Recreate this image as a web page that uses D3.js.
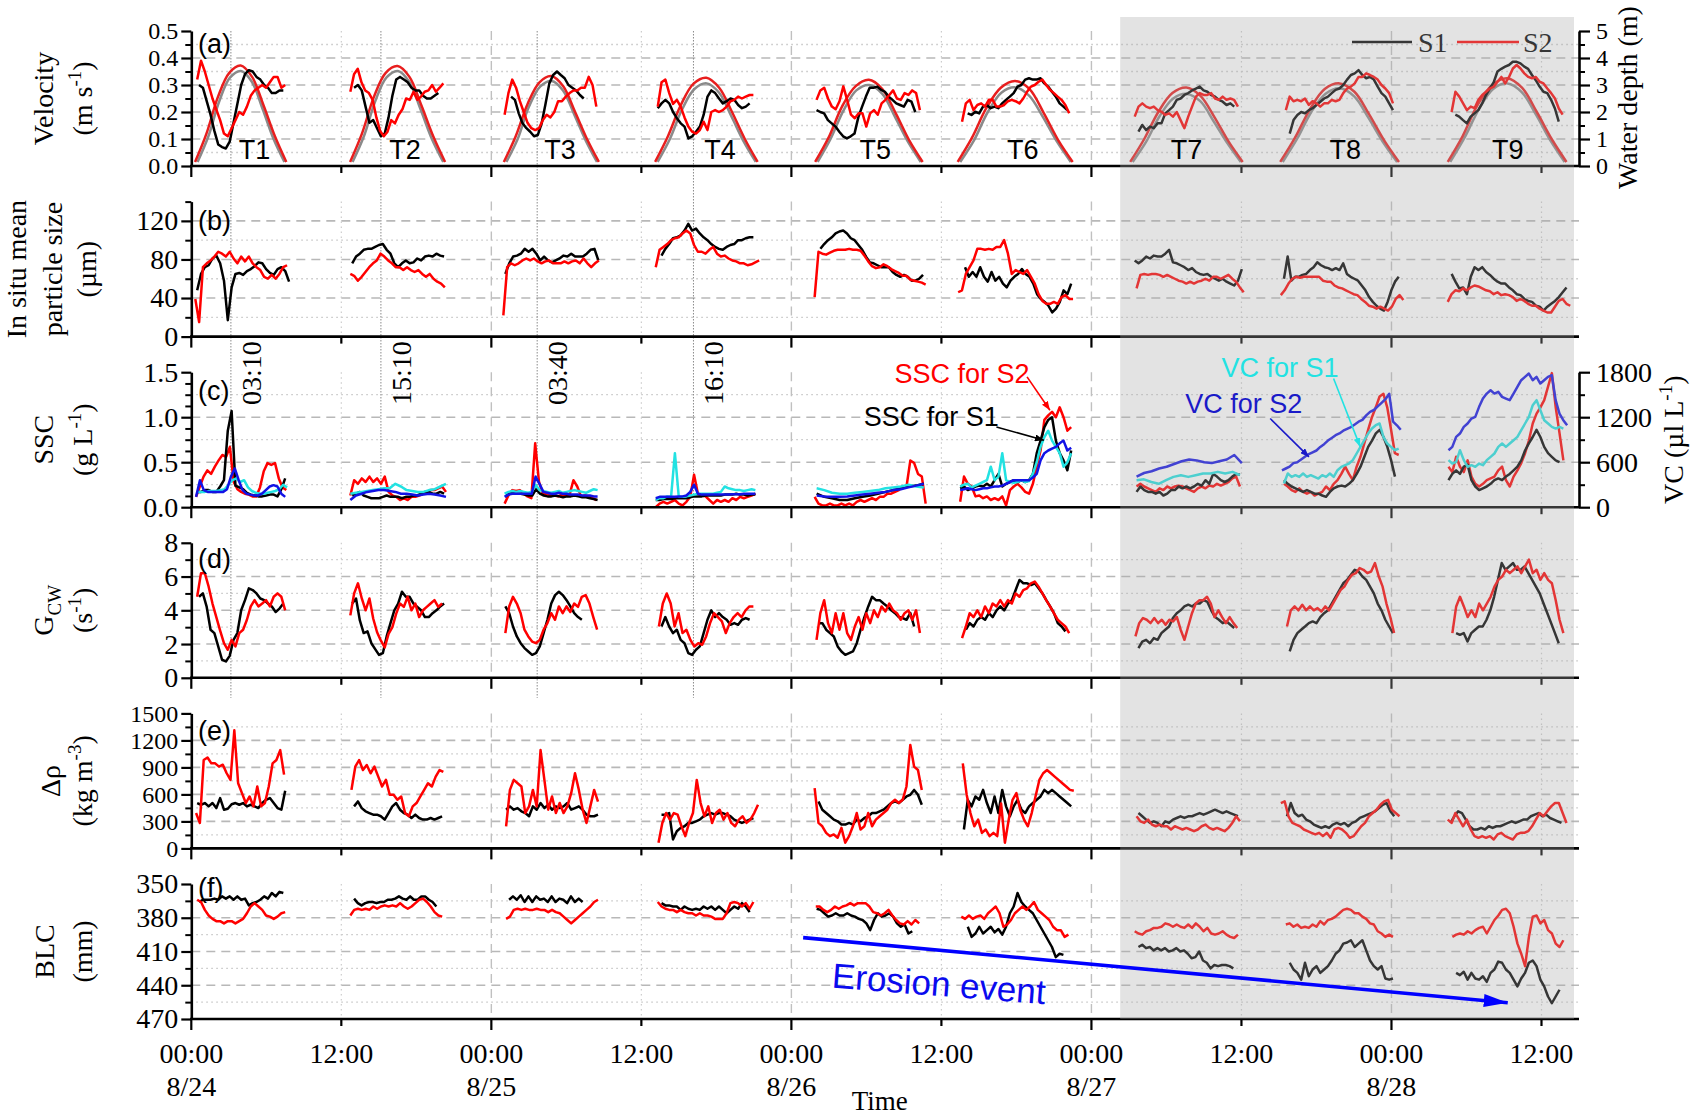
<!DOCTYPE html>
<html>
<head>
<meta charset="utf-8">
<script src="https://d3js.org/d3.v7.min.js"></script>
<style>
  body { margin: 0; background: #fff; }
</style>
</head>
<body>
<svg width="1699" height="1119" font-family='"Liberation Serif", "Times New Roman", serif'></svg>
<script>
// time in hours since 8/24 00:00; each segment = [tStart, tEnd, evenly spaced values]
var xTicks = [0, 12, 24, 36, 48, 60, 72, 84, 96, 108];
var xTickLabels = ["00:00", "12:00", "00:00", "12:00", "00:00", "12:00", "00:00", "12:00", "00:00", "12:00"];
var dayLabels = ["8/24", "8/25", "8/26", "8/27", "8/28"];
var tideNames = ["T1", "T2", "T3", "T4", "T5", "T6", "T7", "T8", "T9"];
var tideLabelHours = [5.06, 17.1, 29.5, 42.3, 54.7, 66.5, 79.6, 92.3, 105.3];
var markerHours = [3.167, 15.167, 27.667, 40.167];
var markerLabels = ["03:10", "15:10", "03:40", "16:10"];
var shadeHours = [74.3, 110.6];

var depthS1 = [
  [0.5, 7.45, [0.15, 1.1, 2.4, 3.28, 3.52, 3.12, 2.1, 1.0, 0.15]],
  [12.9, 20.15, [0.15, 1.1, 2.4, 3.28, 3.52, 3.12, 2.1, 1.0, 0.15]],
  [25.2, 32.45, [0.15, 1.0, 2.2, 2.95, 3.15, 2.8, 1.9, 0.95, 0.15]],
  [37.3, 45.15, [0.15, 1.0, 2.1, 2.85, 3.06, 2.72, 1.85, 0.92, 0.15]],
  [50.1, 58.35, [0.15, 1.0, 2.05, 2.8, 3.0, 2.68, 1.82, 0.9, 0.15]],
  [61.5, 70.35, [0.15, 0.95, 2.0, 2.72, 2.91, 2.6, 1.8, 0.9, 0.15]],
  [75.3, 83.95, [0.15, 0.9, 1.85, 2.5, 2.67, 2.4, 1.65, 0.85, 0.15]],
  [87.3, 96.45, [0.15, 1.0, 2.0, 2.68, 2.88, 2.58, 1.78, 0.9, 0.15]],
  [100.7, 109.85, [0.15, 1.05, 2.1, 2.85, 3.06, 2.74, 1.9, 0.95, 0.15]]
];
var depthS2 = [
  [0.3, 7.6, [0.15, 1.2, 2.55, 3.45, 3.72, 3.3, 2.25, 1.1, 0.15]],
  [12.7, 20.3, [0.15, 1.2, 2.55, 3.45, 3.7, 3.3, 2.25, 1.1, 0.15]],
  [25.0, 32.6, [0.15, 1.1, 2.3, 3.1, 3.33, 2.95, 2.0, 1.0, 0.15]],
  [37.1, 45.3, [0.15, 1.1, 2.25, 3.05, 3.27, 2.9, 2.0, 1.0, 0.15]],
  [49.9, 58.5, [0.15, 1.05, 2.2, 2.95, 3.19, 2.85, 1.95, 0.95, 0.15]],
  [61.3, 70.5, [0.15, 1.05, 2.15, 2.9, 3.15, 2.85, 1.95, 0.95, 0.15]],
  [75.1, 84.1, [0.15, 1.0, 2.0, 2.7, 2.91, 2.6, 1.8, 0.9, 0.15]],
  [87.1, 96.6, [0.15, 1.05, 2.1, 2.85, 3.06, 2.75, 1.9, 0.95, 0.15]],
  [100.5, 110.0, [0.15, 1.1, 2.25, 3.0, 3.25, 2.9, 2.0, 1.0, 0.15]]
];

var velS1 = [
  [0.62, 7.36, [.30,.29,.24,.19,.13,.08,.07,.065,.09,.16,.23,.30,.34,.355,.35,.33,.32,.30,.29,.27,.27,.28,.28]],
  [13.02, 19.76, [.29,.30,.28,.22,.16,.17,.14,.11,.12,.18,.26,.32,.33,.32,.31,.29,.28,.28,.26,.25,.25,.26,.27]],
  [25.58, 31.39, [.257,.245,.195,.158,.14,.127,.11,.115,.158,.23,.306,.337,.35,.337,.325,.30,.29,.28,.263,.25]],
  [37.31, 44.66, [.214,.232,.245,.232,.20,.177,.158,.146,.102,.11,.127,.146,.19,.257,.28,.27,.25,.232,.24,.25,.245,.226,.214,.22,.232]],
  [50.01, 57.91, [.207,.20,.195,.17,.158,.146,.127,.11,.102,.11,.12,.18,.22,.257,.29,.29,.294,.282,.275,.257,.245,.232,.226,.22,.245,.238,.20]],
  [62.1, 70.07, [.195,.189,.201,.195,.22,.226,.214,.22,.214,.232,.245,.257,.27,.294,.30,.32,.325,.32,.32,.325,.306,.294,.275,.257,.232,.22,.207]],
  [75.76, 83.42, [.127,.152,.133,.146,.14,.158,.158,.195,.207,.22,.245,.25,.263,.27,.28,.287,.294,.28,.275,.263,.257,.245,.238,.226,.232,.22]],
  [87.86, 96.12, [.12,.17,.189,.20,.195,.207,.214,.226,.238,.25,.257,.27,.282,.287,.30,.32,.337,.343,.355,.337,.325,.33,.32,.294,.27,.257,.232,.207]],
  [101.11, 109.38, [.19,.183,.17,.158,.183,.195,.207,.232,.263,.287,.31,.35,.36,.368,.374,.386,.386,.38,.368,.36,.337,.318,.294,.275,.27,.245,.213,.164]]
];
var velS2 = [
  [0.47, 7.51, [.32,.39,.35,.30,.25,.21,.17,.12,.11,.14,.17,.20,.19,.22,.26,.28,.29,.30,.29,.31,.33,.33,.29,.30]],
  [12.72, 20.16, [.275,.34,.36,.31,.28,.27,.245,.18,.13,.11,.127,.17,.158,.19,.21,.25,.245,.275,.245,.257,.275,.28,.30,.275,.29,.306]],
  [25.06, 32.4, [.19,.27,.32,.29,.24,.20,.16,.14,.133,.14,.17,.19,.18,.20,.24,.24,.257,.27,.28,.28,.29,.29,.33,.30,.22]],
  [37.31, 44.96, [.22,.31,.32,.27,.23,.245,.22,.18,.146,.127,.12,.133,.164,.133,.20,.207,.20,.207,.22,.24,.245,.257,.25,.257,.263,.263]],
  [50.01, 58.28, [.245,.28,.29,.25,.22,.21,.24,.295,.245,.19,.177,.195,.195,.146,.195,.207,.19,.232,.245,.263,.28,.25,.245,.27,.263,.28,.27,.207]],
  [61.65, 70.22, [.164,.232,.245,.207,.226,.232,.22,.245,.245,.22,.22,.226,.24,.245,.24,.232,.25,.275,.294,.30,.312,.32,.30,.282,.27,.257,.245,.226,.195]],
  [75.46, 83.72, [.183,.22,.232,.22,.214,.22,.207,.201,.189,.195,.183,.20,.17,.14,.183,.22,.257,.27,.263,.263,.27,.25,.245,.257,.245,.25,.245,.22]],
  [87.55, 96.12, [.207,.257,.24,.245,.24,.25,.226,.24,.232,.22,.232,.232,.245,.24,.245,.27,.287,.294,.306,.33,.33,.343,.337,.33,.32,.30,.287,.27,.232]],
  [100.81, 109.69, [.20,.275,.257,.232,.207,.22,.214,.245,.263,.275,.287,.294,.312,.33,.306,.33,.361,.374,.361,.343,.33,.325,.33,.312,.306,.287,.27,.25,.213,.19]]
];

var sizeS1 = [
  [0.47, 7.82, [48,65,72,74,81,84,76,58,17,51,65,66,64,68,70,73,77,76,70,66,64,70,72,68,57]],
  [12.87, 20.22, [76,83,86,90,91,91,93,95,96,90,86,76,72,76,79,76,77,81,79,83,84,83,86,84,83]],
  [25.12, 32.56, [65,76,83,84,86,91,88,91,86,79,83,79,77,79,81,84,83,86,83,83,83,86,90,91,79]],
  [37.61, 44.96, [84,91,96,102,103,105,110,117,110,112,107,103,100,96,93,91,90,93,95,96,100,100,102,103,103]],
  [50.32, 58.53, [91,96,100,103,107,109,110,107,102,100,95,90,83,77,76,74,72,72,72,67,64,62,64,62,58,58,60,64]],
  [61.89, 70.38, [72,62,67,62,72,62,57,67,58,62,55,51,58,62,65,70,65,62,55,44,39,36,32,25,29,36,48,44,55]],
  [75.46, 84.03, [79,76,79,83,81,84,83,83,86,90,77,76,74,72,69,71,67,65,64,65,62,60,58,60,57,55,53,58,70]],
  [87.4, 96.58, [60,83,58,62,62,64,65,69,72,77,74,72,71,69,71,69,76,65,62,60,58,53,48,41,36,32,29,27,36,48,57,62]],
  [100.81, 110.0, [65,57,50,51,44,62,72,69,72,67,64,60,57,55,55,51,48,44,43,39,37,36,32,31,27,31,34,37,41,46,51]]
];
var sizeS2 = [
  [0.32, 7.66, [39,15,72,76,79,83,88,86,83,88,81,76,83,78,83,76,72,69,62,60,64,60,65,72,74]],
  [12.72, 20.28, [65,63,58,62,67,72,76,79,86,83,79,76,72,72,69,72,69,67,69,65,62,65,60,57,55,51]],
  [24.96, 32.6, [22,72,76,74,76,79,81,79,81,78,76,78,79,76,76,76,78,76,78,79,76,81,76,72,76,79]],
  [37.15, 45.42, [72,90,93,96,100,102,103,107,110,107,95,88,88,86,90,93,86,83,84,81,79,78,76,76,74,75,77,79]],
  [49.86, 58.74, [41,88,86,85,87,89,90,90,90,91,90,90,89,84,78,73,71,72,75,73,70,68,66,63,63,59,58,57,56,54]],
  [61.34, 70.53, [46,48,65,72,79,91,91,90,91,90,93,93,100,86,65,69,67,65,69,62,55,44,37,34,34,36,34,41,43,39,39]],
  [75.61, 84.18, [50,64,65,64,65,65,64,62,64,62,60,58,57,55,57,55,57,58,60,58,62,62,60,62,64,60,57,51,46]],
  [87.15, 96.95, [43,48,55,60,62,61,62,62,62,62,62,58,57,57,53,51,50,48,46,44,43,39,36,32,31,29,31,29,27,31,39,43,38]],
  [100.5, 110.3, [36,44,48,47,50,48,51,53,52,50,48,47,44,46,43,44,43,41,37,39,37,34,32,32,29,27,25,25,31,37,39,34,32]]
];

var sscS1 = [
  [0.47, 7.51, [.17,.17,.19,.19,.17,.17,.23,.3,.85,1.07,.24,.22,.2,.16,.14,.13,.12,.12,.13,.14,.14,.12,.2,.32]],
  [12.87, 20.22, [.13,.15,.17,.13,.115,.10,.10,.10,.115,.13,.115,.115,.115,.10,.115,.115,.13,.13,.15,.17,.17,.15,.15,.17,.15]],
  [25.12, 32.5, [.12,.15,.17,.15,.15,.14,.13,.13,.2,.15,.13,.12,.12,.13,.12,.11,.12,.12,.13,.12,.11,.11,.1,.09,.08]],
  [37.15, 45.12, [.08,.08,.09,.09,.09,.1,.1,.1,.1,.11,.12,.12,.12,.13,.13,.13,.13,.13,.14,.14,.14,.15,.14,.14,.13,.14,.14]],
  [50.02, 58.59, [.15,.115,.1,.08,.08,.1,.115,.13,.15,.17,.19,.21,.23,.24,.26]],
  [61.5, 70.38, [.21,.23,.19,.21,.23,.24,.23,.26,.23,.3,.37,.23,.26,.28,.3,.28,.3,.28,.3,.37,.6,.74,.89,.97,1.0,.74,.6,.52,.41,.63]],
  [75.61, 83.88, [.17,.23,.19,.17,.17,.15,.17,.13,.15,.19,.19,.23,.21,.23,.21,.23,.26,.24,.3,.26,.37,.34,.3,.28,.3,.34,.37,.36]],
  [87.4, 96.28, [.3,.26,.23,.21,.19,.17,.19,.17,.15,.15,.13,.115,.17,.21,.23,.24,.23,.26,.3,.37,.45,.56,.67,.74,.82,.86,.78,.67,.52,.34]],
  [100.56, 109.44, [.3,.37,.41,.37,.45,.47,.3,.23,.19,.21,.23,.26,.3,.32,.3,.34,.37,.41,.45,.52,.63,.71,.78,.86,.78,.67,.6,.56,.52,.5]]
];
var sscS2 = [
  [0.38, 7.6, [.115,.23,.34,.41,.37,.45,.52,.58,.56,.67,.28,.20,.17,.15,.14,.12,.12,.22,.40,.49,.47,.49,.32,.22,.19]],
  [12.72, 20.37, [.13,.30,.26,.32,.28,.34,.28,.32,.26,.34,.17,.13,.115,.08,.10,.08,.115,.115,.13,.15,.17,.19,.19,.21,.23,.17]],
  [25.06, 32.4, [.04,.13,.19,.18,.19,.15,.12,.10,.71,.28,.15,.15,.13,.13,.12,.14,.13,.14,.3,.23,.12,.13,.12,.10,.08]],
  [37.15, 45.12, [0,.04,.06,.04,.06,.08,.04,.02,.06,.115,.36,.15,.13,.12,.08,.04,.08,.06,.08,.06,.1,.08,.115,.1,.115,.13,.15]],
  [49.86, 58.74, [.115,.04,.02,.02,.04,.02,.02,.04,.02,.04,.02,.06,.08,.06,.08,.1,.08,.115,.115,.15,.15,.17,.19,.23,.23,.52,.49,.37,.34,.04]],
  [61.5, 70.38, [.06,.34,.26,.23,.12,.13,.1,.12,.08,.1,.08,.12,.02,.19,.23,.26,.22,.17,.15,.26,.45,.63,.97,1.02,1.06,1.0,1.11,1.0,.85,.89]],
  [75.61, 83.88, [.23,.26,.23,.21,.19,.17,.21,.19,.23,.21,.23,.24,.23,.21,.19,.17,.21,.23,.21,.24,.23,.26,.24,.26,.28,.32,.34,.23]],
  [87.4, 96.58, [.26,.23,.19,.17,.21,.17,.15,.17,.13,.15,.17,.23,.19,.26,.3,.37,.45,.37,.3,.45,.56,.71,.86,1.0,1.11,1.23,1.26,1.11,.86,.6,.58]],
  [100.56, 109.75, [.45,.39,.56,.45,.39,.52,.34,.26,.23,.26,.3,.32,.34,.41,.45,.3,.23,.34,.41,.49,.6,.74,.93,1.04,1.11,1.19,1.34,1.49,1.11,.82,.52]]
];
// volume concentration, µl/L (right axis of panel c)
var vcS1 = [
  [0.47, 7.66, [204,204,204,216,216,216,228,240,300,360,384,336,360,264,216,192,180,180,192,204,216,240,300,264]],
  [12.72, 20.37, [180,192,204,216,228,240,252,252,312,276,228,216,204,204,228,240,276,312]],
  [25.06, 32.5, [180,204,216,204,216,204,192,204,300,228,216,204,192,204,216,192,204,216,228,216,204,192,216,240,228]],
  [37.15, 45.12, [96,120,120,144,138,720,144,138,144,156,168,180,180,180,180,180,192,204,276,252,240,228,228,216,228,240,228]],
  [50.02, 58.59, [252,228,192,180,180,192,204,216,228,252,264,276,300,276,264]],
  [61.5, 70.38, [276,300,312,264,288,312,336,360,540,360,408,720,360,336,324,336,360,336,348,444,600,804,936,1020,888,804,720,540,600,720]],
  [75.61, 83.88, [360,372,336,312,360,404,427,404,427,449,449,471,449,471,427]],
  [87.4, 96.58, [316,449,404,427,404,449,404,427,404,382,427,404,449,404,493,538,560,582,627,716,804,893,982,1049,1093,1116,938,849,804,760,782]],
  [100.56, 109.75, [627,582,604,760,627,538,560,538,582,560,627,671,716,804,849,804,849,893,938,1027,1116,1204,1360,1427,1293,1160,1116,1071,1049,1071,1049]]
];
var vcS2 = [
  [0.38, 7.51, [138,360,228,204,204,204,204,204,240,408,516,360,228,180,168,156,156,180,228,276,294,276,180,138]],
  [12.72, 20.37, [96,156,180,204,216,228,228,216,204,180,180,168,156,168,180,168,156,138]],
  [25.06, 32.5, [138,168,180,180,180,180,180,180,408,312,204,192,180,180,192,180,180,168,168,168,156,156,156,144,144]],
  [37.15, 45.12, [120,138,138,138,138,138,144,144,156,204,300,180,168,168,168,168,168,168,168,168,174,174,174,180,180,180,180]],
  [50.02, 58.59, [156,144,138,138,144,156,168,180,192,204,228,240,264,288,312]],
  [61.5, 70.38, [228,240,252,240,228,240,252,252,264,276,276,288,312,336,360,360,360,360,360,396,444,624,720,756,780,804,852,888,756,792]],
  [75.61, 84.03, [408,456,480,516,540,576,612,636,624,600,588,612,636,696,588]],
  [87.24, 96.74, [492,516,540,588,600,636,672,708,732,756,804,840,888,924,960,984,1020,1044,1068,1104,1140,1164,1224,1272,1296,1344,1392,1440,1512,1140,1092,1032]],
  [100.56, 110.05, [760,804,938,982,1071,1116,1182,1204,1338,1449,1515,1560,1515,1538,1471,1449,1427,1515,1604,1693,1738,1782,1693,1738,1649,1693,1738,1760,1427,1249,1160,1093]]
];

var gcwS1 = [
  [0.62, 7.36, [4.8,5.0,4.2,2.85,2.65,1.86,1.07,0.97,1.3,2.25,2.65,4.0,4.6,5.3,5.2,5.0,4.7,4.6,4.4,4.23,3.9,4.1,4.4]],
  [12.87, 20.22, [4.4,4.7,3.4,2.65,2.75,2.05,1.7,1.36,1.46,2.45,3.24,4.0,4.4,5.1,4.8,4.8,4.4,4.2,4.0,3.6,3.6,3.83,4.0,4.23,4.4]],
  [25.12, 31.24, [4.23,3.83,3.04,2.45,2.05,1.76,1.56,1.36,1.46,1.86,2.65,3.44,4.4,4.9,5.1,4.9,4.6,4.23,3.83,3.6,3.44]],
  [37.61, 44.66, [3.04,3.6,3.04,2.65,2.85,2.25,2.05,1.46,1.36,1.66,1.86,2.65,3.44,4.0,3.6,3.83,3.6,3.44,3.14,3.24,3.14,3.44,3.54,3.44]],
  [50.17, 57.82, [3.24,3.24,2.85,2.65,2.45,1.86,1.56,1.36,1.46,1.56,2.05,2.85,3.6,4.23,4.8,4.6,4.6,4.4,4.23,4.0,3.83,3.6,3.54,3.44,3.83,3.04]],
  [61.96, 69.92, [2.85,3.24,3.04,3.44,3.6,3.44,3.83,3.6,4.0,4.23,4.0,4.4,4.6,5.2,5.8,5.6,5.6,5.5,5.6,5.3,5.0,4.6,4.23,3.83,3.24,3.04,2.75]],
  [75.76, 83.42, [1.76,2.15,2.25,2.05,2.35,2.25,2.65,2.85,3.04,3.54,3.83,4.0,4.23,4.33,4.23,4.4,4.4,4.6,4.5,4.0,3.6,3.44,3.24,3.34,3.14,2.95]],
  [87.86, 96.12, [1.56,2.25,2.65,2.85,3.04,3.24,3.34,3.24,3.6,3.83,4.0,4.4,4.8,5.2,5.6,5.8,6.1,6.4,6.3,6.0,5.8,5.4,5.0,4.4,4.0,3.44,3.04,2.65]],
  [101.17, 109.38, [2.65,2.55,2.65,2.15,2.65,2.85,3.04,3.04,3.44,4.0,4.8,5.8,6.8,6.4,6.6,6.8,6.4,6.4,6.6,6.2,5.8,5.4,5.0,4.4,3.83,3.24,2.65,2.05]]
];
var gcwS2 = [
  [0.47, 7.51, [4.8,6.2,6.2,5.4,4.4,3.6,2.8,2.05,1.66,2.25,1.86,2.65,2.85,3.44,4.23,4.6,4.23,4.4,4.6,4.23,4.8,5.0,4.8,4.0]],
  [12.72, 20.06, [3.7,5.0,5.6,4.7,4.0,4.7,3.5,2.7,2.2,1.8,2.6,3.0,3.8,4.4,4.2,4.8,4.0,4.4,3.6,4.0,4.2,4.4,4.6,4.2,4.4]],
  [25.12, 32.46, [2.65,4.23,4.8,4.4,3.83,2.85,2.45,2.15,2.05,2.25,2.85,3.24,3.83,3.44,4.23,3.83,4.23,3.9,4.4,4.2,4.8,4.9,4.4,3.6,2.85]],
  [37.4, 44.96, [3.04,4.4,5.0,4.4,3.04,3.83,2.65,2.85,2.25,1.86,2.05,1.96,2.45,3.24,3.83,3.6,3.34,2.65,3.24,3.6,3.83,3.6,4.0,4.23,4.23]],
  [50.01, 58.28, [2.25,3.83,4.6,3.24,2.65,3.83,2.85,3.83,2.65,2.25,3.04,3.6,2.85,3.83,3.24,4.0,3.6,4.23,3.93,4.4,4.0,3.83,3.44,3.83,4.0,3.44,4.0,2.65]],
  [61.65, 70.22, [2.35,3.04,3.83,3.6,4.0,3.6,4.23,3.83,4.4,4.23,4.6,4.23,4.6,4.4,5.0,4.8,5.2,5.3,5.6,5.7,5.4,5.0,4.6,4.23,3.83,3.44,3.24,3.04,2.65]],
  [75.52, 83.66, [2.45,3.24,3.54,3.44,3.24,3.54,3.24,3.44,3.14,3.44,3.34,3.6,2.85,2.25,3.04,3.83,4.4,4.6,4.6,4.8,4.4,3.6,4.0,3.6,3.24,3.6,3.24,2.95]],
  [87.64, 96.21, [3.04,4.0,4.23,4.0,4.33,4.0,4.23,4.0,4.13,3.93,4.23,4.0,4.4,4.8,5.2,5.4,5.8,6.1,6.2,6.5,6.4,6.2,6.3,6.8,6.0,5.4,4.4,3.6,2.65]],
  [100.87, 109.75, [2.65,4.23,4.8,4.23,3.6,4.0,3.6,4.4,4.0,4.4,4.8,5.4,5.8,6.0,6.4,6.2,6.4,6.6,6.2,6.6,7.0,6.2,6.4,5.8,6.2,5.8,5.6,4.6,3.44,2.65]]
];

var drhoS1 = [
  [0.47, 7.51, [504,485,504,467,504,448,559,430,440,490,504,485,504,467,485,467,448,504,540,559,504,448,430,640]],
  [13.02, 20.06, [467,522,448,412,393,375,375,357,320,393,467,504,430,393,375,338,375,338,320,320,338,320,338,357]],
  [25.18, 32.53, [430,467,430,448,412,393,357,467,430,504,448,485,430,467,448,467,504,430,448,467,430,375,357,357,375]],
  [37.61, 44.96, [375,375,393,100,191,228,246,283,283,301,320,357,375,393,375,393,393,375,357,320,301,283,301,320,338]],
  [50.17, 58.43, [522,430,393,357,320,301,265,265,283,265,320,301,338,357,393,393,412,430,467,504,522,504,540,577,596,650,596,485]],
  [61.8, 70.38, [210,540,467,577,540,650,504,393,577,393,650,467,357,467,540,430,393,467,504,540,577,650,614,650,614,577,540,504,467]],
  [75.76, 83.72, [393,357,320,283,301,283,246,301,283,320,338,357,338,357,357,375,393,375,393,412,430,412,393,412,393,375,357]],
  [87.64, 96.22, [357,504,393,357,375,320,301,265,246,228,246,228,265,283,265,283,246,283,301,338,357,375,393,412,448,485,504,412,357]],
  [100.72, 109.6, [283,357,412,393,320,246,210,210,228,210,246,228,246,246,265,283,301,283,301,320,320,357,375,393,357,375,338,320,301,283]]
];
var drhoS2 = [
  [0.38, 7.42, [393,283,982,1010,945,945,908,930,835,761,1313,724,614,504,577,467,688,467,504,688,945,982,1092,820]],
  [12.81, 20.16, [650,908,982,871,926,835,908,798,688,761,596,596,540,577,393,357,467,504,577,650,724,688,798,871,850]],
  [25.18, 32.53, [246,650,761,724,688,393,467,650,467,1092,761,430,577,393,504,393,467,614,835,650,430,283,467,650,520]],
  [37.37, 45.33, [63,283,393,320,393,375,246,136,283,393,761,504,357,467,283,393,430,320,393,283,246,320,357,283,320,393,485]],
  [49.86, 58.43, [669,283,246,173,136,155,118,228,63,136,246,393,210,246,393,246,320,357,393,430,504,540,504,540,688,1150,908,871,650]],
  [61.71, 70.59, [945,600,393,246,320,173,210,136,173,136,500,63,320,540,614,430,320,246,393,577,761,835,871,835,798,761,724,688,650,640]],
  [75.61, 83.88, [357,301,283,320,265,246,265,246,246,210,246,228,210,228,210,191,210,246,265,228,210,228,210,191,228,283,357,301]],
  [87.15, 96.64, [504,522,357,283,265,246,210,191,173,155,173,136,173,118,210,228,210,173,118,136,191,246,283,357,393,430,485,522,540,430,393,357]],
  [100.5, 110.0, [320,283,393,320,246,320,210,136,118,136,118,136,99,155,173,136,118,99,155,173,173,191,246,320,393,357,412,467,504,504,393,283]]
];

var blcS1 = [
  [0.62, 7.36, [366,364,364,364,363,364,361,363,361,364,361,364,363,369,367,366,364,361,363,358,361,357,358]],
  [13.02, 19.6, [363,367,369,367,366,366,367,366,366,364,364,363,361,363,364,361,364,364,361,361,364,366,370]],
  [25.42, 31.3, [364,361,364,360,366,361,366,361,364,363,366,361,366,363,364,367,361,366,363,366]],
  [37.61, 44.66, [367,369,369,370,370,373,370,372,373,372,373,370,372,370,373,370,373,376,373,370,372,367,370,375]],
  [50.02, 57.67, [372,373,376,379,378,376,378,378,376,378,379,381,382,385,391,382,376,379,378,376,379,385,388,386,394,392]],
  [62.11, 69.76, [388,397,394,388,394,391,388,393,390,395,388,376,370,358,366,370,373,376,382,388,394,400,406,415,412,413]],
  [75.76, 83.35, [406,404,407,406,409,407,409,407,410,409,407,410,409,412,416,415,410,418,420,425,422,423,422,422,423,425]],
  [87.86, 96.12, [420,426,429,435,420,432,426,423,429,426,423,418,412,409,403,402,400,406,403,400,409,418,423,426,423,434,435,434]],
  [101.17, 109.44, [429,431,428,435,429,434,435,432,437,429,426,419,420,426,429,435,441,434,429,420,418,423,435,441,450,456,450,444]]
];
var blcS2 = [
  [0.47, 7.51, [364,366,373,378,381,383,383,385,383,383,385,383,381,376,370,367,370,373,378,379,381,379,376,375]],
  [12.72, 20.07, [378,373,372,373,372,373,370,372,370,369,370,369,370,367,370,372,370,367,364,363,366,370,375,378,379]],
  [25.18, 32.53, [381,379,373,372,373,372,373,373,372,373,373,375,373,375,376,379,382,385,382,379,376,373,370,366,364]],
  [37.31, 44.96, [366,370,372,373,373,375,373,375,376,376,378,376,378,378,379,381,381,381,376,367,366,367,370,367,372,366]],
  [49.95, 58.22, [370,370,373,375,373,370,372,370,369,367,369,367,367,367,370,375,376,378,376,373,378,382,385,386,383,386,382,385]],
  [61.59, 70.16, [379,381,378,381,379,378,381,376,373,370,376,388,386,382,376,373,370,373,370,366,373,376,379,382,388,391,391,397,395]],
  [75.46, 83.72, [392,394,395,392,391,389,389,388,385,386,388,386,388,389,386,389,385,388,392,389,394,395,394,392,395,397,398,395]],
  [87.55, 96.12, [386,385,388,386,389,388,389,386,388,383,386,382,381,379,376,373,372,373,376,376,379,381,385,386,392,394,397,395,397]],
  [100.87, 109.75, [397,395,394,395,392,394,391,389,388,394,388,382,378,373,372,376,388,403,412,423,397,379,378,385,382,391,394,403,406,400]]
];

var serif = '"Liberation Serif", "Times New Roman", serif';
var sans = '"Liberation Sans", Arial, sans-serif';
var colS1 = "#000", colS2 = "#f00", colCyan = "#22e2e2", colBlue = "#1212e6";
var fs = 28, fsTight = 24;

var svg = d3.select("svg");
var x = d3.scaleLinear().domain([0, 111]).range([191.3, 1579]);
var x0 = x(0), x1 = x(111);
var panelH = 135;
function panelTop(i) { return 31 + i * 170.6; }

function steps(lo, hi, st) {
  var n = Math.floor((hi - lo) / st + 1e-6);
  return d3.range(n + 1).map(function(i) { return +(lo + i * st).toFixed(4); });
}
function pts(seg) {
  var t0 = seg[0], t1 = seg[1], v = seg[2], n = v.length;
  return v.map(function(d, i) { return [t0 + (t1 - t0) * i / (n - 1), d]; });
}
// text with super/subscripts; first tspan gets the vertical centring
function rich(t, parts) {
  var shift = 0;
  t.append("tspan").attr("dy", "0.35em").text("");
  parts.forEach(function(p) {
    var target = p[1] == "sup" ? -11 : p[1] == "sub" ? 8 : 0;
    var s = t.append("tspan").text(p[0]).attr("dy", target - shift);
    if (p[1]) s.attr("font-size", 19);
    shift = target;
  });
}

var panels = [
  { dom: [0, 0.5], major: 0.1, minor: 0.05, dot: 0.05, fmt: d3.format(".1f"), s1: velS1, s2: velS2, tfs: fsTight,
    title: [[["Velocity"]], [["(m s"], ["-1", "sup"], [")"]]], titleX: [53, 92], label: "(a)", labOff: 12 },
  { dom: [0, 140], major: 40, minor: 20, dot: 20, fmt: d3.format("d"), s1: sizeS1, s2: sizeS2, tfs: fs,
    title: [[["In situ mean"]], [["particle size"]], [["(\u00b5m)"]]], titleX: [26, 62, 96], label: "(b)", labOff: 18 },
  { dom: [0, 1.5], major: 0.5, minor: 0.125, dot: 0.25, fmt: d3.format(".1f"), s1: sscS1, s2: sscS2, tfs: fs,
    title: [[["SSC"]], [["(g L"], ["-1", "sup"], [")"]]], titleX: [53, 92], label: "(c)", labOff: 18 },
  { dom: [0, 8], major: 2, minor: 1, dot: 1, fmt: d3.format("d"), s1: gcwS1, s2: gcwS2, tfs: fs,
    title: [[["G"], ["CW", "sub"]], [["(s"], ["-1", "sup"], [")"]]], titleX: [53, 92], label: "(d)", labOff: 15 },
  { dom: [0, 1500], major: 300, minor: 150, dot: 150, fmt: d3.format("d"), s1: drhoS1, s2: drhoS2, tfs: fsTight,
    title: [[["\u0394\u03c1"]], [["(kg m"], ["-3", "sup"], [")"]]], titleX: [60, 92], label: "(e)", labOff: 17 },
  { dom: [350, 470], major: 30, minor: 15, dot: 15, fmt: d3.format("d"), s1: blcS1, s2: blcS2, flip: true, tfs: fs,
    title: [[["BLC"]], [["(mm)"]]], titleX: [54, 92], label: "(f)", labOff: 3 }
];

var gridLayer = svg.append("g");
var dataLayer = svg.append("g");
var axisLayer = svg.append("g");
var shadeLayer = svg.append("g");
var noteLayer = svg.append("g");

panels.forEach(function(p, i) {
  var top = panelTop(i), bot = top + panelH;
  p.top = top; p.bot = bot;
  var y = d3.scaleLinear().domain(p.dom).range(p.flip ? [top, bot] : [bot, top]);
  p.y = y;
  var lo = p.dom[0], hi = p.dom[1];
  var majors = steps(lo, hi, p.major);
  var minors = steps(lo, hi, p.minor).filter(function(v) { return majors.indexOf(v) < 0; });
  var dots = steps(lo, hi, p.dot).filter(function(v) { return majors.indexOf(v) < 0 && v != hi && v != lo; });

  // horizontal grid
  majors.filter(function(v) { return v != lo && v != hi; }).forEach(function(v) {
    gridLayer.append("line").attr("x1", x0).attr("x2", x1).attr("y1", y(v)).attr("y2", y(v))
      .attr("stroke", "#b8b8b8").attr("stroke-width", 1.6).attr("stroke-dasharray", "9,6");
  });
  dots.forEach(function(v) {
    gridLayer.append("line").attr("x1", x0).attr("x2", x1).attr("y1", y(v)).attr("y2", y(v))
      .attr("stroke", "#c4c4c4").attr("stroke-width", 1.3).attr("stroke-dasharray", "1.5,3.5");
  });
  // vertical grid
  xTicks.slice(1).forEach(function(t) {
    var day = t % 24 == 0;
    gridLayer.append("line").attr("x1", x(t)).attr("x2", x(t)).attr("y1", top).attr("y2", bot)
      .attr("stroke", day ? "#c0c0c0" : "#cccccc").attr("stroke-width", day ? 1.4 : 1.2)
      .attr("stroke-dasharray", day ? "9,6" : "1.5,3.5");
  });

  // y axis
  var ax = axisLayer.append("g").attr("transform", "translate(" + x0 + ",0)")
    .call(d3.axisLeft(y).tickValues(majors).tickSize(10).tickSizeOuter(0).tickFormat(p.fmt));
  ax.attr("font-family", serif).attr("font-size", p.tfs);
  ax.select(".domain").attr("stroke-width", 2.6);
  ax.selectAll(".tick line").attr("stroke-width", 2.2);
  ax.selectAll(".tick text").attr("fill", "#000");
  var axm = axisLayer.append("g").attr("transform", "translate(" + x0 + ",0)")
    .call(d3.axisLeft(y).tickValues(minors).tickSize(6).tickSizeOuter(0).tickFormat(""));
  axm.select(".domain").remove();
  axm.selectAll(".tick line").attr("stroke-width", 2);

  // bottom axis
  axisLayer.append("line").attr("x1", x0 - 1.3).attr("x2", x1).attr("y1", bot).attr("y2", bot)
    .attr("stroke", "#000").attr("stroke-width", 2.6);
  xTicks.forEach(function(t) {
    axisLayer.append("line").attr("x1", x(t)).attr("x2", x(t)).attr("y1", bot).attr("y2", bot + (t % 24 == 0 ? 11 : 7))
      .attr("stroke", "#000").attr("stroke-width", 2.2);
  });

  // titles
  var tc = (top + bot) / 2;
  p.title.forEach(function(parts, k) {
    var t = axisLayer.append("text").attr("font-size", fs).attr("text-anchor", "middle")
      .attr("transform", "translate(" + p.titleX[k] + "," + tc + ") rotate(-90)");
    rich(t, parts);
  });
  axisLayer.append("text").attr("x", 198).attr("y", top + p.labOff + 10)
    .attr("font-family", sans).attr("font-size", 27).text(p.label);
});

var pa = panels[0], pc = panels[2];
var yDepth = d3.scaleLinear().domain([0, 5]).range([pa.bot, pa.top]);
var yVC = d3.scaleLinear().domain([0, 1800]).range([pc.bot, pc.top]);

function drawSegs(segs, y, color, curve, width) {
  var line = d3.line().x(function(d) { return x(d[0]); }).y(function(d) { return y(d[1]); })
    .curve(curve || d3.curveLinear);
  dataLayer.append("g").selectAll("path").data(segs).enter().append("path")
    .attr("d", function(s) { return line(pts(s)); })
    .attr("fill", "none").attr("stroke", color).attr("stroke-width", width || 2.5)
    .attr("stroke-linejoin", "round");
}

// thin markers of selected times (panels a-d)
markerHours.forEach(function(t, k) {
  gridLayer.append("line").attr("x1", x(t)).attr("x2", x(t)).attr("y1", pa.top).attr("y2", panels[3].bot + 20)
    .attr("stroke", "#8a8a8a").attr("stroke-width", 1).attr("stroke-dasharray", "1.5,1.5");
  noteLayer.append("text").attr("font-size", fs).attr("text-anchor", "middle")
    .attr("transform", "translate(" + (x(t) + 20) + "," + (pc.top + 1) + ") rotate(-90)")
    .attr("dy", "0.35em").text(markerLabels[k]);
});

drawSegs(depthS1, yDepth, "#8a8a8a", d3.curveCatmullRom.alpha(0.5), 2.5);
drawSegs(depthS2, yDepth, "#e81e1e", d3.curveCatmullRom.alpha(0.5), 2.5);
panels.forEach(function(p, i) {
  if (i == 2) {
    drawSegs(p.s2, p.y, colS2);
    drawSegs(p.s1, p.y, colS1);
    drawSegs(vcS1, yVC, colCyan);
    drawSegs(vcS2, yVC, colBlue);
  } else {
    drawSegs(p.s1, p.y, colS1);
    drawSegs(p.s2, p.y, colS2);
  }
});

// tide labels
tideNames.forEach(function(n, k) {
  noteLayer.append("text").attr("x", x(tideLabelHours[k])).attr("y", pa.bot - 7)
    .attr("text-anchor", "middle").attr("font-family", sans).attr("font-size", 27).text(n);
});

// right axes
function rightAxis(scale, majors, minors, fmt, size) {
  var g = axisLayer.append("g").attr("transform", "translate(" + x1 + ",0)")
    .call(d3.axisRight(scale).tickValues(majors).tickSize(11).tickSizeOuter(0).tickFormat(fmt).tickPadding(6));
  g.attr("font-family", serif).attr("font-size", size);
  g.select(".domain").attr("stroke-width", 2.6);
  g.selectAll(".tick line").attr("stroke-width", 2.2);
  g.selectAll(".tick text").attr("fill", "#000");
  var gm = axisLayer.append("g").attr("transform", "translate(" + x1 + ",0)")
    .call(d3.axisRight(scale).tickValues(minors).tickSize(6).tickSizeOuter(0).tickFormat(""));
  gm.select(".domain").remove();
  gm.selectAll(".tick line").attr("stroke-width", 2);
}
rightAxis(yDepth, steps(0, 5, 1), steps(0.5, 4.5, 1), d3.format("d"), fsTight);
rightAxis(yVC, steps(0, 1800, 600), steps(300, 1500, 600), d3.format("d"), fs);
var wd = axisLayer.append("text").attr("font-size", fs).attr("text-anchor", "middle")
  .attr("transform", "translate(1637," + ((pa.top + pa.bot) / 2 - 1) + ") rotate(-90)");
rich(wd, [["Water depth (m)"]]);
var vct = axisLayer.append("text").attr("font-size", fs).attr("text-anchor", "middle")
  .attr("transform", "translate(1683," + ((pc.top + pc.bot) / 2) + ") rotate(-90)");
rich(vct, [["VC (\u00b5l L"], ["-1", "sup"], [")"]]);

// bottom labels
var pf = panels[5];
xTicks.forEach(function(t, k) {
  axisLayer.append("text").attr("x", x(t)).attr("y", pf.bot + 44).attr("text-anchor", "middle")
    .attr("font-size", fs).text(xTickLabels[k]);
  if (t % 24 == 0) {
    axisLayer.append("text").attr("x", x(t)).attr("y", pf.bot + 77).attr("text-anchor", "middle")
      .attr("font-size", fs).text(dayLabels[t / 24]);
  }
});
axisLayer.append("text").attr("x", x(55.07)).attr("y", pf.bot + 91).attr("text-anchor", "middle")
  .attr("font-size", 27).text("Time");

// legend
var lg = axisLayer.append("g");
lg.append("line").attr("x1", 1352).attr("x2", 1412).attr("y1", 42).attr("y2", 42).attr("stroke", colS1).attr("stroke-width", 2.6);
lg.append("text").attr("x", 1418).attr("y", 52).attr("font-size", fs).text("S1");
lg.append("line").attr("x1", 1457).attr("x2", 1519).attr("y1", 42).attr("y2", 42).attr("stroke", colS2).attr("stroke-width", 2.6);
lg.append("text").attr("x", 1523).attr("y", 52).attr("font-size", fs).text("S2");

// shaded period (drawn on top, semi-transparent)
shadeLayer.append("rect").attr("x", x(shadeHours[0])).attr("y", 17)
  .attr("width", x(shadeHours[1]) - x(shadeHours[0])).attr("height", pf.bot - 17)
  .attr("fill", "#a8a8a8").attr("opacity", 0.32);

// annotations
var defs = svg.append("defs");
function marker(id, color, len, wid) {
  defs.append("marker").attr("id", id).attr("markerUnits", "userSpaceOnUse")
    .attr("markerWidth", len).attr("markerHeight", wid * 2).attr("refX", len).attr("refY", wid)
    .attr("orient", "auto").append("path")
    .attr("d", "M0,0L" + len + "," + wid + "L0," + (wid * 2) + "Z").attr("fill", color);
}
marker("mRed", colS2, 9, 3.5);
marker("mBlack", "#000", 9, 3.5);
marker("mCyan", colCyan, 9, 3.5);
marker("mBlue", "#1a1ac8", 9, 3.5);
marker("mErosion", "#0000ff", 24, 6.5);

var notes = [
  { text: "SSC for S2", color: colS2, t: 61.65, v: 1.486, from: [66.85, 1.448], to: [68.68, 1.078], m: "mRed" },
  { text: "SSC for S1", color: "#000", t: 59.18, v: 1.011, from: [64.4, 0.892], to: [68.2, 0.744], m: "mBlack" },
  { text: "VC for S1", color: colCyan, t: 87.09, v: 1.559, from: [91.37, 1.43], to: [93.5, 0.67], m: "mCyan" },
  { text: "VC for S2", color: "#1a1ac8", t: 84.18, v: 1.152, from: [86.3, 0.986], to: [89.4, 0.559], m: "mBlue" }
];
notes.forEach(function(n) {
  noteLayer.append("line").attr("x1", x(n.from[0])).attr("y1", pc.y(n.from[1]))
    .attr("x2", x(n.to[0])).attr("y2", pc.y(n.to[1]))
    .attr("stroke", n.color).attr("stroke-width", 1.6).attr("marker-end", "url(#" + n.m + ")");
  noteLayer.append("text").attr("x", x(n.t)).attr("y", pc.y(n.v)).attr("dy", "0.36em")
    .attr("text-anchor", "middle").attr("font-family", sans).attr("font-size", 27)
    .attr("fill", n.color).text(n.text);
});

var er = { from: [48.94, 397.7], to: [105.3, 455.5], t: 59.8, v: 438.3 };
var ex1 = x(er.from[0]), ey1 = pf.y(er.from[1]), ex2 = x(er.to[0]), ey2 = pf.y(er.to[1]);
noteLayer.append("line").attr("x1", ex1).attr("y1", ey1).attr("x2", ex2).attr("y2", ey2)
  .attr("stroke", "#0000ff").attr("stroke-width", 3.6).attr("marker-end", "url(#mErosion)");
var ang = Math.atan2(ey2 - ey1, ex2 - ex1) * 180 / Math.PI;
noteLayer.append("text").attr("font-family", sans).attr("font-size", 35).attr("fill", "#0a0aee")
  .attr("text-anchor", "middle").attr("dy", "0.36em")
  .attr("transform", "translate(" + x(er.t) + "," + pf.y(er.v) + ") rotate(" + (ang * 0.85) + ")")
  .text("Erosion event");
</script>
</body>
</html>
